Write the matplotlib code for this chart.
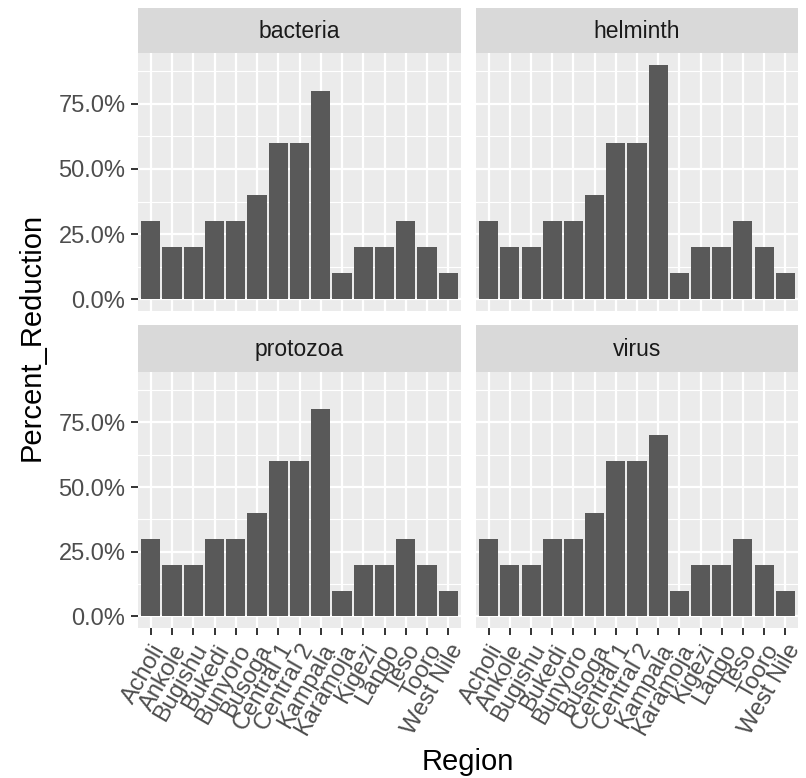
# Percent reduction by region, faceted by pathogen type (ggplot-style facet grid)
import matplotlib
matplotlib.use('Agg')
import matplotlib.pyplot as plt
from matplotlib.ticker import FuncFormatter, FixedLocator

regions = ['Acholi', 'Ankole', 'Bugishu', 'Bukedi', 'Bunyoro', 'Busoga',
           'Central 1', 'Central 2', 'Kampala', 'Karamoja', 'Kigezi',
           'Lango', 'Teso', 'Tooro', 'West Nile']

bacteria = [0.30, 0.20, 0.20, 0.30, 0.30, 0.40, 0.60, 0.60, 0.80, 0.10, 0.20, 0.20, 0.30, 0.20, 0.10]
helminth = [0.30, 0.20, 0.20, 0.30, 0.30, 0.40, 0.60, 0.60, 0.90, 0.10, 0.20, 0.20, 0.30, 0.20, 0.10]
protozoa = [0.30, 0.20, 0.20, 0.30, 0.30, 0.40, 0.60, 0.60, 0.80, 0.10, 0.20, 0.20, 0.30, 0.20, 0.10]
virus = [0.30, 0.20, 0.20, 0.30, 0.30, 0.40, 0.60, 0.60, 0.70, 0.10, 0.20, 0.20, 0.30, 0.20, 0.10]

panel_names = ['bacteria', 'helminth', 'protozoa', 'virus']
panel_values = [bacteria, helminth, protozoa, virus]

plt.rcParams['font.family'] = ['Liberation Sans', 'DejaVu Sans']

W, H = 806, 778
fig = plt.figure(figsize=(W / 100, H / 100), dpi=100)


def box(x0, y0, x1, y1):
    # pixel box -> figure fraction rect
    return [x0 / W, 1 - y1 / H, (x1 - x0) / W, (y1 - y0) / H]


cols = [(138, 461), (476, 798)]
rows = [((8, 53), (53, 311)), ((325, 372), (372, 628))]

top = max(max(v) for v in panel_values)
ylim = (-top * 0.05, top * 1.05)
xpos = list(range(1, len(regions) + 1))

for i, (name, vals) in enumerate(zip(panel_names, panel_values)):
    r, c = divmod(i, 2)
    (sx0, sx1) = cols[c]
    (st, sb), (pt, pb) = rows[r]

    # strip
    sax = fig.add_axes(box(sx0, st, sx1, sb))
    sax.set_facecolor('#D9D9D9')
    sax.set_xticks([])
    sax.set_yticks([])
    for s in sax.spines.values():
        s.set_visible(False)
    sax.text(0.5, 0.47, name, ha='center', va='center', fontsize=16.5,
             color='#1A1A1A', transform=sax.transAxes)

    ax = fig.add_axes(box(sx0, pt, sx1, pb))
    ax.set_facecolor('#EBEBEB')
    for s in ax.spines.values():
        s.set_visible(False)
    ax.bar(xpos, vals, width=0.9, color='#595959', zorder=3)
    ax.set_xlim(0.4, len(regions) + 0.6)
    ax.set_ylim(*ylim)

    ax.yaxis.set_major_locator(FixedLocator([0, 0.25, 0.5, 0.75]))
    ax.yaxis.set_minor_locator(FixedLocator([0.125, 0.375, 0.625, 0.875]))
    ax.set_xticks(xpos)
    ax.grid(which='major', color='white', linewidth=1.6, zorder=1)
    ax.grid(which='minor', axis='y', color='white', linewidth=0.8, zorder=1)
    ax.tick_params(which='minor', length=0)
    ax.tick_params(which='major', color='#333333', length=5, width=1.4,
                   labelcolor='#4D4D4D', labelsize=17, pad=4)

    if c == 0:
        ax.yaxis.set_major_formatter(FuncFormatter(lambda v, p: f'{v * 100:.1f}%'))
    else:
        ax.tick_params(axis='y', which='major', length=0, labelleft=False)

    if r == 1:
        ax.set_xticklabels(regions, rotation=60, ha='right',
                           rotation_mode='anchor', fontsize=17)
    else:
        ax.tick_params(axis='x', which='major', length=0, labelbottom=False)

fig.text(32 / W, 1 - 337 / H, 'Percent_Reduction', rotation=90,
         ha='center', va='center', fontsize=21, color='black')
fig.text(468 / W, 1 - 762 / H, 'Region', ha='center', va='center',
         fontsize=21, color='black')

fig.savefig('out.png', dpi=100)
